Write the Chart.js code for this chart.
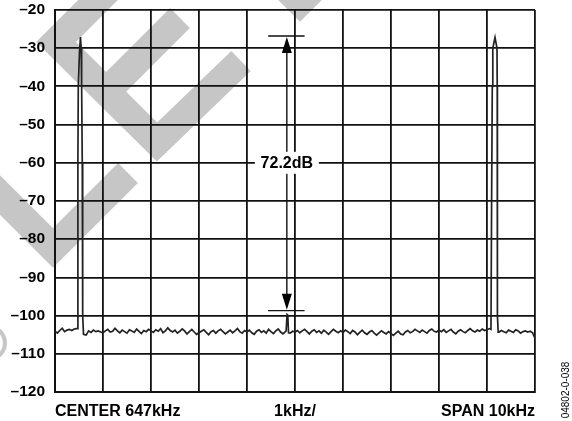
<!DOCTYPE html>
<html>
<head>
<meta charset="utf-8">
<script src="https://cdn.jsdelivr.net/npm/chart.js@4.4.0/dist/chart.umd.min.js"></script>
<style>
  body { margin: 0; background: #fff; }
</style>
</head>
<body>
<canvas id="spectrumChart" width="572" height="421"></canvas>
<script>
// sweep: 642kHz to 652kHz, one reading every 50Hz
const sweepStartKHz = 642;
const sweepStepKHz = 0.05;

// noise floor readings (dB), one row per kHz division
const noiseDb = [
  -104.1, -104.6, -103.9, -103.3, -104.2, -103.8, -103.6, -103.9, -103.5, -103.4, -103.5, -103.5, -104.9, -105.1, -104.0, -104.4, -103.8, -104.2, -104.0, -104.3,
  -104.5, -104.0, -103.6, -104.3, -104.1, -103.3, -104.0, -104.5, -103.8, -104.2, -104.6, -103.7, -104.0, -104.4, -103.5, -104.1, -104.7, -103.9, -104.2, -103.6,
  -104.0, -104.4, -103.7, -104.1, -103.4, -104.5, -104.0, -103.2, -103.9, -104.3, -103.8, -104.6, -104.1, -103.5, -104.0, -104.8, -104.2, -103.6, -104.3, -104.9,
  -104.5, -104.1, -103.7, -104.4, -105.0, -104.2, -103.9, -104.6, -104.0, -103.6, -104.2, -104.8, -104.3, -103.8, -104.5, -104.0, -103.4, -104.2, -104.6, -103.9,
  -104.3, -103.8, -104.5, -104.9, -104.1, -103.7, -104.4, -104.0, -104.6, -103.6, -104.2, -104.7, -104.0, -103.5, -104.3, -104.8, -104.2, -104.0, -104.6, -104.1,
  -104.3, -103.9, -104.5, -104.0, -103.6, -104.2, -104.8, -104.1, -103.7, -104.4, -104.0, -104.6, -103.8, -104.3, -104.9, -104.2, -103.6, -104.1, -104.5, -104.0,
  -104.4, -103.8, -104.2, -104.7, -103.9, -104.3, -105.0, -104.4, -103.8, -104.5, -104.9, -104.3, -103.9, -104.6, -105.1, -104.5, -104.0, -104.4, -104.8, -104.2,
  -104.7, -105.2, -104.6, -104.1, -104.8, -105.0, -104.3, -103.9, -104.5, -104.2, -103.6, -104.0, -104.4, -103.8, -104.2, -104.6, -103.9, -103.5, -104.1, -104.3,
  -103.8, -104.2, -103.7, -104.4, -104.0, -103.6, -104.3, -104.8, -104.1, -103.7, -104.2, -104.5, -103.9, -103.4, -104.0, -104.3, -103.8, -104.1, -103.5, -103.9,
  -103.7, -103.4, -103.5, -103.5, -103.8, -104.3, -103.9, -104.2, -104.5, -103.8, -104.1, -104.4, -103.7, -104.0, -104.6, -104.2, -104.0, -104.3, -104.1, -104.5,
  -106.0
];

// the two tones and the small spur at the centre
const leftToneKHz = [642.473, 642.477, 642.485, 642.510, 642.531, 642.545, 642.555, 642.568, 642.577, 642.594];
const leftToneDb = [-103.4, -60, -40, -31, -27.1, -30, -40, -60, -100, -104.9];
const spurKHz = [646.815, 646.835, 646.850, 646.865];
const spurDb = [-104.0, -99.7, -99.9, -104.5];
const rightToneKHz = [651.083, 651.096, 651.110, 651.121, 651.167, 651.208, 651.213, 651.217, 651.233];
const rightToneDb = [-103.6, -70, -40, -30, -27.2, -30, -40, -100, -104.3];

// marker between tone and spur
const markerKHz = 646.83;
const markerSpanKHz = [646.44, 647.2];
const markerDb = [-26.8, -98.7];
const markerLabelDb = -60;
const markerText = '72.2dB';

const xLabels = ['CENTER 647kHz', '1kHz/', 'SPAN 10kHz'];
const xLabelKHz = [642, 647, 652];
const figureId = '04802-0-038';

const fontFamily = '"Liberation Sans", Arial, Helvetica, sans-serif';
Chart.defaults.font.family = fontFamily;

//merges noise readings with the tone readings
function buildTrace(){
    const tones = [[leftToneKHz, leftToneDb], [spurKHz, spurDb], [rightToneKHz, rightToneDb]];
    const pts = [];
    noiseDb.forEach((db, i) => {
        const f = sweepStartKHz + i * sweepStepKHz;
        const inTone = tones.some(([fs]) => f >= fs[0] && f <= fs[fs.length - 1]);
        if(!inTone) pts.push({x: f, y: db});
    });
    tones.forEach(([fs, dbs]) => fs.forEach((f, i) => pts.push({x: f, y: dbs[i]})));
    pts.sort((a, b) => a.x - b.x);
    return pts;
}

// grey "SAMPLE" stamp behind the plot
const watermark = {
    id: 'watermark',
    beforeDraw(chart){
        const ctx = chart.ctx;
        ctx.save();
        ctx.strokeStyle = '#c6c6c6';
        ctx.lineWidth = 28;
        ctx.lineJoin = 'miter';
        ctx.lineCap = 'butt';
        const strokes = [
            [[-47, 148], [53, 248], [128, 173]],
            [[156, -58], [56, 42], [157, 142], [241, 61]],
            [[106, 92], [180, 18]],
            [[250, -48], [300, 2], [350, -48]]
        ];
        strokes.forEach(s => {
            ctx.beginPath();
            s.forEach((p, i) => i ? ctx.lineTo(p[0], p[1]) : ctx.moveTo(p[0], p[1]));
            ctx.stroke();
        });
        ctx.lineWidth = 4;
        ctx.beginPath();
        ctx.arc(-11, 343, 16, -Math.PI / 2, Math.PI / 2);
        ctx.stroke();
        ctx.restore();
    }
};

// marker arrows, label and axis captions
const annotations = {
    id: 'annotations',
    afterDatasetsDraw(chart){
        const ctx = chart.ctx;
        const xs = chart.scales.x, ys = chart.scales.y;
        const mx = xs.getPixelForValue(markerKHz);
        const yTop = ys.getPixelForValue(markerDb[0]);
        const yBot = ys.getPixelForValue(markerDb[1]);
        const x0 = xs.getPixelForValue(markerSpanKHz[0]);
        const x1 = xs.getPixelForValue(markerSpanKHz[1]);
        ctx.save();
        ctx.strokeStyle = '#111';
        ctx.fillStyle = '#000';
        ctx.lineWidth = 1.4;
        ctx.beginPath();
        ctx.moveTo(x0, yTop); ctx.lineTo(x1, yTop);
        ctx.moveTo(x0, yBot); ctx.lineTo(x1, yBot);
        ctx.moveTo(mx, yTop + 10); ctx.lineTo(mx, yBot - 10);
        ctx.stroke();
        // arrow heads
        ctx.beginPath();
        ctx.moveTo(mx, yTop + 1); ctx.lineTo(mx - 5, yTop + 17); ctx.lineTo(mx + 5, yTop + 17); ctx.closePath();
        ctx.moveTo(mx, yBot - 1); ctx.lineTo(mx - 5, yBot - 17); ctx.lineTo(mx + 5, yBot - 17); ctx.closePath();
        ctx.fill();
        // label on a white patch
        const ly = ys.getPixelForValue(markerLabelDb);
        ctx.fillStyle = '#fff';
        ctx.fillRect(mx - 32, ly - 11, 64, 22);
        ctx.fillStyle = '#000';
        ctx.font = 'bold 16px ' + fontFamily;
        ctx.textAlign = 'center';
        ctx.textBaseline = 'middle';
        ctx.fillText(markerText, mx, ly + 1);

        // captions under the plot
        ctx.textBaseline = 'alphabetic';
        const aligns = ['left', 'center', 'right'];
        xLabels.forEach((t, i) => {
            ctx.textAlign = aligns[i];
            ctx.fillText(t, xs.getPixelForValue(xLabelKHz[i]), 416);
        });

        // figure number up the right side
        ctx.translate(566, 390);
        ctx.rotate(-Math.PI / 2);
        ctx.font = '10px ' + fontFamily;
        ctx.textAlign = 'center';
        ctx.textBaseline = 'middle';
        ctx.fillText(figureId, 0, 0);
        ctx.restore();
    }
};

const spectrumChart = document.getElementById('spectrumChart').getContext('2d');
const myChart = new Chart(spectrumChart, {
    type: 'line',
    data: {
        datasets: [{
            data: buildTrace(),
            borderColor: '#222',
            borderWidth: 1.7,
            pointRadius: 0,
            tension: 0,
            fill: false
        }]
    },
    options: {
        responsive: false,
        animation: false,
        events: [],
        layout: { padding: { top: 10, right: 37, left: 0, bottom: 0 } },
        plugins: { legend: { display: false }, tooltip: { enabled: false } },
        scales: {
            x: {
                type: 'linear',
                min: 642,
                max: 652,
                ticks: { display: false, stepSize: 1 },
                grid: { color: '#111', lineWidth: 1.8, drawTicks: false },
                border: { color: '#111', width: 2 },
                afterFit: s => { s.height = 29; }
            },
            y: {
                min: -120,
                max: -20,
                ticks: {
                    stepSize: 10,
                    padding: 10,
                    color: '#000',
                    font: { size: 15.5, weight: 'bold' },
                    callback: v => (v < 0 ? '\u2013' + Math.abs(v) : String(v))
                },
                grid: { color: '#111', lineWidth: 1.8, drawTicks: false },
                border: { color: '#111', width: 2 },
                afterFit: s => { s.width = 55; s.paddingTop = 0; s.paddingBottom = 0; }
            }
        }
    },
    plugins: [watermark, annotations]
});
</script>
</body>
</html>
